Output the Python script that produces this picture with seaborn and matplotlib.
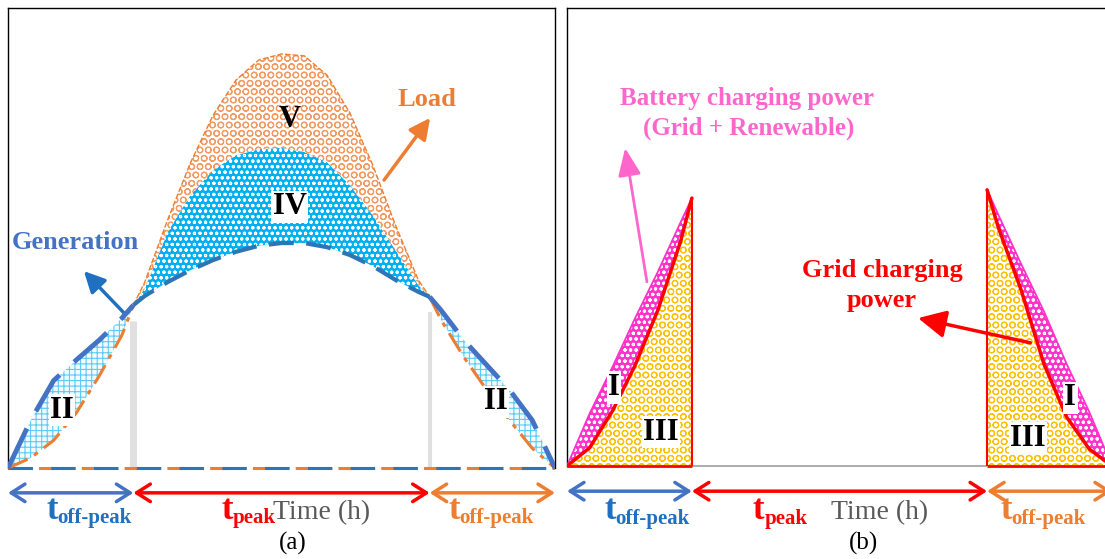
import numpy as np
import matplotlib
matplotlib.use("Agg")
import matplotlib.pyplot as plt
import seaborn as sns

# ---------------- data (panel a) ----------------
hours = [0, 1, 2, 3, 4, 5, 5.5, 6, 7, 8, 9, 10, 11, 12, 13, 14, 15, 16, 17, 18, 18.5,
         19, 20, 21, 22, 23, 24]
generation = [0, 0.104, 0.19, 0.235, 0.278, 0.326, 0.354, 0.374, 0.404, 0.43, 0.452,
              0.47, 0.483, 0.489, 0.489, 0.48, 0.463, 0.439, 0.409, 0.383, 0.372,
              0.343, 0.278, 0.224, 0.17, 0.104, 0]
load = [0, 0.022, 0.06, 0.12, 0.2, 0.289, 0.354, 0.404, 0.539, 0.663, 0.767, 0.843,
        0.887, 0.9, 0.896, 0.854, 0.772, 0.659, 0.528, 0.409, 0.372,
        0.322, 0.241, 0.17, 0.104, 0.043, 0]
peak_hours = [5.5, 6, 7, 8, 9, 10, 11, 12, 13, 14, 15, 16, 17, 18, 18.5]
region_iv_top = [0.354, 0.39, 0.513, 0.593, 0.648, 0.68, 0.693, 0.696, 0.687, 0.665,
                 0.615, 0.55, 0.474, 0.398, 0.372]
peak_start, peak_end = 5.5, 18.5

# ---------------- data (panel b) ----------------
hours_left = [0, 1, 2, 3, 4, 5, 5.5]
battery_left = [0, 0.115, 0.216, 0.323, 0.424, 0.532, 0.585]
grid_left = [0, 0.04, 0.12, 0.22, 0.34, 0.49, 0.585]
hours_right = [18.5, 19, 20, 21, 22, 23, 24]
battery_right = [0.603, 0.548, 0.441, 0.338, 0.223, 0.118, 0]
grid_right = [0.603, 0.52, 0.384, 0.223, 0.107, 0.037, 0]

# ---------------- style ----------------
sns.set_style("white")
plt.rcParams["font.family"] = ["Liberation Serif", "DejaVu Serif"]
plt.rcParams["hatch.linewidth"] = 0.8

BLUE = "#4472C4"
DBLUE = "#2E75B6"
ORANGE = "#ED7D31"
RED = "#FF0000"
PINK = "#FF33CC"
PINKTXT = "#FF66CC"
GRAY = "#595959"

W, H = 1105, 559
fig = plt.figure(figsize=(W / 100, H / 100), dpi=100)

axA = fig.add_axes([8 / W, 0, 547 / W, (H - 8) / H])
axA.set_xlim(0, 24)
axA.set_ylim(-(H - 468) / 460, 1)
axB = fig.add_axes([567 / W, 0, 545 / W, (H - 8) / H])
axB.set_xlim(0, 24)
axB.set_ylim(-(H - 466) / 458, 1)

for ax in (axA, axB):
    ax.set_xticks([])
    ax.set_yticks([])
    ax.patch.set_alpha(0)
    for s in ax.spines.values():
        s.set_color("black")
        s.set_linewidth(1.0)
    ax.spines["bottom"].set_visible(False)
    ax.spines["left"].set_bounds(0, 1)
axA.spines["right"].set_bounds(0, 1)
axB.spines["right"].set_visible(False)

h = np.array(hours)
g = np.array(generation)
l = np.array(load)
left = h <= peak_start
right = h >= peak_end
peak = (h >= peak_start) & (h <= peak_end)

# ---------------- panel (a) fills ----------------
for m in (left, right):
    axA.fill_between(h[m], l[m], g[m], facecolor="#F2FBFF", edgecolor="#5CCBF7",
                     hatch="+++", linewidth=0, zorder=1)
axA.fill_between(peak_hours, g[peak], region_iv_top, facecolor="#00B0F0",
                 edgecolor="white", hatch="ooo", linewidth=0, zorder=1)
axA.fill_between(peak_hours, region_iv_top, l[peak], facecolor="white",
                 edgecolor="#F29A62", hatch="OO", linewidth=0, zorder=1)

# gray boundary bars
axA.vlines([peak_start], 0, 0.32, color="#E0E0E0", lw=5, zorder=1.5)
axA.vlines([peak_end], 0, 0.34, color="#E0E0E0", lw=3, zorder=1.5)

# baseline
axA.axhline(0, color=ORANGE, lw=2.2, linestyle=(4, (6, 8)), zorder=2)
axA.axhline(0, color=DBLUE, lw=2.2, linestyle=(0, (8, 6)), zorder=2)

# curves
for m in (left, right):
    sns.lineplot(x=h[m], y=l[m], ax=axA, color=ORANGE, lw=2.2,
                 linestyle=(0, (7, 2.5, 1.5, 2.5)), zorder=3)
    sns.lineplot(x=h[m], y=g[m], ax=axA, color=BLUE, lw=3.5,
                 linestyle=(0, (9, 4)), zorder=4)
sns.lineplot(x=h[peak], y=l[peak], ax=axA, color=ORANGE, lw=1.0,
             linestyle=(0, (4, 1.5)), zorder=3)
sns.lineplot(x=h[peak], y=g[peak], ax=axA, color=DBLUE, lw=3.0,
             linestyle=(0, (6, 3)), zorder=4)

# region labels
lab = dict(fontsize=22, fontweight="bold", color="black", ha="center", va="baseline", zorder=6)
wbox = dict(facecolor="white", edgecolor="none", pad=1.0)
axA.text(12.37, 0.741, "V", **lab)
axA.text(12.37, 0.552, "IV", bbox=wbox, **lab)
axA.text(2.37, 0.109, "II", bbox=wbox, **lab)
axA.text(21.41, 0.128, "II", bbox=wbox, **lab)

axA.text(2.96, 0.476, "Generation", fontsize=19, fontweight="bold", color=BLUE,
         ha="center", va="baseline")
axA.text(18.38, 0.787, "Load", fontsize=19, fontweight="bold", color=ORANGE,
         ha="center", va="baseline")
axA.annotate("", xy=(18.52, 0.761), xytext=(16.5, 0.626),
             arrowprops=dict(arrowstyle="-|>,head_length=0.9,head_width=0.45",
                             color=ORANGE, lw=2.5, mutation_scale=14,
                             shrinkA=0, shrinkB=0))
axA.annotate("", xy=(3.33, 0.428), xytext=(5.13, 0.335),
             arrowprops=dict(arrowstyle="-|>,head_length=0.9,head_width=0.45",
                             color="#1F70C1", lw=2.5, mutation_scale=14,
                             shrinkA=0, shrinkB=0))


def span_arrow(ax, x0, x1, y, color):
    ax.annotate("", xy=(x1, y), xytext=(x0, y),
                arrowprops=dict(arrowstyle="<->,head_length=0.55,head_width=0.35",
                                color=color, lw=2.5, mutation_scale=18,
                                shrinkA=0, shrinkB=0))


def t_label(ax, x, y, color, sub):
    t = ax.text(x, y, "t", fontsize=25, fontweight="bold", color=color,
                ha="left", va="baseline")
    ax.annotate(sub, xy=(1, 0), xycoords=t, xytext=(0, -1),
                textcoords="offset points", fontsize=15, fontweight="bold",
                color=color, ha="left", va="bottom")


# panel (a) bottom
yA = -0.054
span_arrow(axA, 0, peak_start, yA, BLUE)
span_arrow(axA, peak_start, peak_end, yA, RED)
span_arrow(axA, peak_end, 24, yA, ORANGE)
t_label(axA, 1.67, -0.111, "#1F70C1", "off-peak")
t_label(axA, 9.35, -0.111, RED, "peak")
t_label(axA, 19.31, -0.111, ORANGE, "off-peak")
axA.text(11.63, -0.111, "Time (h)", fontsize=20, color=GRAY, ha="left", va="baseline")
axA.text(12.5, -0.178, "(a)", fontsize=18, color="black", ha="center", va="baseline")

# ---------------- panel (b) ----------------
hl = np.array(hours_left)
hr = np.array(hours_right)
for hh, bat, grd in ((hl, battery_left, grid_left), (hr, battery_right, grid_right)):
    bat = np.array(bat)
    grd = np.array(grd)
    axB.fill_between(hh, 0, grd, facecolor="white", edgecolor="#FFC000",
                     hatch="OO", linewidth=0, zorder=1)
    axB.fill_between(hh, grd, bat, facecolor=PINK, edgecolor="white",
                     hatch="ooo", linewidth=0, zorder=1)
    sns.lineplot(x=hh, y=bat, ax=axB, color=PINK, lw=1.3, zorder=3)
    sns.lineplot(x=hh, y=grd, ax=axB, color=RED, lw=2.5, zorder=4)

# triangle edges and baseline
axB.vlines([hours_left[-1]], 0, grid_left[-1], color=RED, lw=1.5, zorder=4)
axB.vlines([hours_right[0]], 0, grid_right[0], color=RED, lw=1.5, zorder=4)
axB.hlines(0, hours_left[-1], hours_right[0], color="#A6A6A6", lw=1.3, zorder=2)
axB.hlines(0, hours_left[0], hours_left[-1], color=RED, lw=2, zorder=4)
axB.hlines(0, hours_right[0], hours_right[-1], color=RED, lw=2, zorder=4)

axB.text(2.07, 0.155, "I", bbox=wbox, **lab)
axB.text(4.14, 0.057, "III", bbox=wbox, **lab)
axB.text(22.16, 0.133, "I", bbox=wbox, **lab)
axB.text(20.3, 0.044, "III", bbox=wbox, **lab)

axB.text(7.93, 0.788, "Battery charging power", fontsize=18, fontweight="bold",
         color=PINKTXT, ha="center", va="baseline")
axB.text(8.02, 0.723, "(Grid + Renewable)", fontsize=18, fontweight="bold",
         color=PINKTXT, ha="center", va="baseline")
axB.annotate("", xy=(2.56, 0.694), xytext=(3.52, 0.402),
             arrowprops=dict(arrowstyle="-|>,head_length=1.2,head_width=0.5",
                             color=PINKTXT, lw=2, mutation_scale=14,
                             shrinkA=0, shrinkB=0))
axB.text(13.88, 0.413, "Grid charging", fontsize=19, fontweight="bold",
         color=RED, ha="center", va="baseline")
axB.text(13.88, 0.347, "power", fontsize=19, fontweight="bold",
         color=RED, ha="center", va="baseline")
axB.annotate("", xy=(15.46, 0.323), xytext=(20.4, 0.269),
             arrowprops=dict(arrowstyle="-|>,head_length=1.2,head_width=0.6",
                             color=RED, lw=2.5, mutation_scale=14,
                             shrinkA=0, shrinkB=0))

yB = -0.055
span_arrow(axB, 0, peak_start, yB, BLUE)
span_arrow(axB, peak_start, peak_end, yB, RED)
span_arrow(axB, peak_end, 24, yB, ORANGE)
t_label(axB, 1.63, -0.116, "#1F70C1", "off-peak")
t_label(axB, 8.19, -0.116, RED, "peak")
t_label(axB, 19.07, -0.116, ORANGE, "off-peak")
axB.text(11.63, -0.116, "Time (h)", fontsize=20, color=GRAY, ha="left", va="baseline")
axB.text(13.04, -0.183, "(b)", fontsize=18, color="black", ha="center", va="baseline")

fig.savefig("out.png", dpi=100)
